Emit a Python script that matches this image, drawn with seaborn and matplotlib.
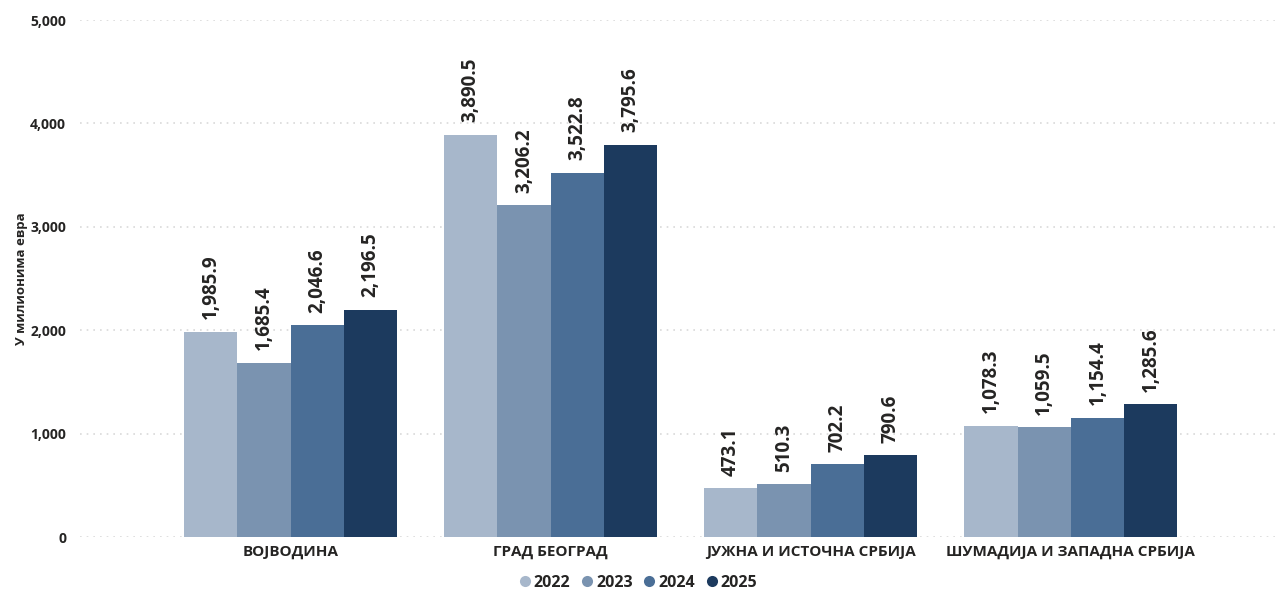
import matplotlib
matplotlib.use("Agg")
import matplotlib.pyplot as plt
import seaborn as sns
import pandas as pd
from matplotlib.lines import Line2D
from matplotlib.ticker import FuncFormatter

regions = ["ВОЈВОДИНА", "ГРАД БЕОГРАД", "ЈУЖНА И ИСТОЧНА СРБИЈА", "ШУМАДИЈА И ЗАПАДНА СРБИЈА"]
years = ["2022", "2023", "2024", "2025"]
values_2022 = [1985.9, 3890.5, 473.1, 1078.3]
values_2023 = [1685.4, 3206.2, 510.3, 1059.5]
values_2024 = [2046.6, 3522.8, 702.2, 1154.4]
values_2025 = [2196.5, 3795.6, 790.6, 1285.6]
colors = ["#a7b7cb", "#7a93b0", "#4a6e96", "#1c3a5e"]
y_label = "У милионима евра"

series = [values_2022, values_2023, values_2024, values_2025]
df = pd.DataFrame(
    [(r, y, v) for y, vals in zip(years, series) for r, v in zip(regions, vals)],
    columns=["region", "year", "value"],
)

sns.set_theme(style="white")
plt.rcParams["font.family"] = ["Open Sans", "DejaVu Sans"]
text_color = "#252423"

fig = plt.figure(figsize=(12.75, 5.92), dpi=100)
ax = fig.add_axes([0.0627, 0.0929, 0.9373, 0.8733])

sns.barplot(
    data=df, x="region", y="value", hue="year", order=regions, hue_order=years,
    palette=colors, width=0.82, saturation=1, ax=ax, legend=False,
    edgecolor="none", linewidth=0,
)

ax.set_ylim(0, 5000)
ax.set_xlim(-0.81, 3.785)
ax.set_yticks([0, 1000, 2000, 3000, 4000, 5000])
ax.yaxis.set_major_formatter(FuncFormatter(lambda v, p: f"{v:,.0f}"))
ax.grid(axis="y", color="#d9d9d9", linestyle=(0, (1, 3)), linewidth=1.2)
ax.set_axisbelow(True)
for s in ax.spines.values():
    s.set_visible(False)
ax.tick_params(axis="both", length=0, colors=text_color)
ax.tick_params(axis="y", pad=10)
ax.tick_params(axis="x", pad=6)
for lbl in ax.get_yticklabels():
    lbl.set_fontweight("bold")
    lbl.set_fontsize(10)
for lbl in ax.get_xticklabels():
    lbl.set_fontweight("bold")
    lbl.set_fontsize(11)
ax.set_xlabel("")
ax.set_ylabel("")
fig.text(0.012, 0.53, y_label, rotation=90, ha="left", va="center",
         fontsize=9.5, fontweight="bold", color=text_color)

for container in ax.containers:
    ax.bar_label(container, labels=[f"{v:,.1f}" for v in container.datavalues],
                 rotation=90, padding=9, fontsize=13.5, fontweight="bold",
                 color=text_color)

handles = [Line2D([0], [0], marker="o", linestyle="", markersize=8,
                  markerfacecolor=c, markeredgecolor="none") for c in colors]
leg = fig.legend(handles, years, loc="center", ncol=4,
                 frameon=False, handletextpad=0.1, handlelength=0.9,
                 columnspacing=0.6,
                 prop={"weight": "bold", "size": 11.5}, labelcolor=text_color)
leg.set_bbox_to_anchor((0.5, 1 - 583 / 592), transform=fig.transFigure)

fig.savefig("out.png", dpi=100, facecolor="white")
